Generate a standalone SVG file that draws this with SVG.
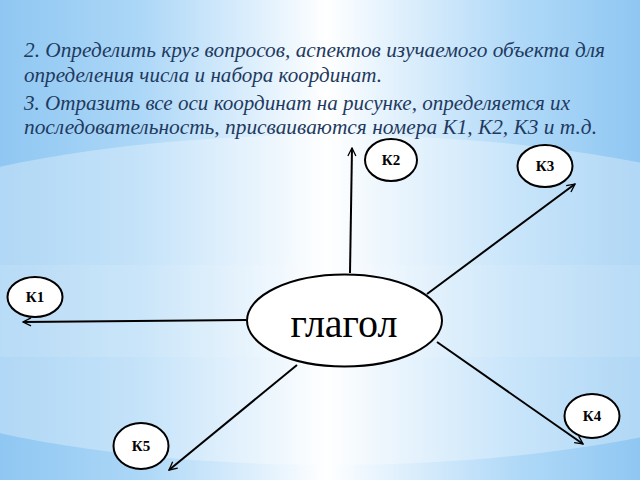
<svg xmlns="http://www.w3.org/2000/svg" width="640" height="480" viewBox="0 0 640 480">
<defs>
<linearGradient id="bg" x1="0" y1="0" x2="1" y2="0">
<stop offset="0" stop-color="#8fc7f2"/>
<stop offset="0.22" stop-color="#acd7f7"/>
<stop offset="0.42" stop-color="#e4f2fd"/>
<stop offset="0.51" stop-color="#ffffff"/>
<stop offset="0.6" stop-color="#e6f3fd"/>
<stop offset="0.8" stop-color="#b2daf8"/>
<stop offset="1" stop-color="#8fc7f2"/>
</linearGradient>
<marker id="arr" viewBox="0 0 10 10" refX="9" refY="5" markerWidth="10" markerHeight="10" markerUnits="userSpaceOnUse" orient="auto">
<path d="M1,1 L9,5 L1,9" fill="none" stroke="#000" stroke-width="1.3"/>
</marker>
<style>
.t{font-family:"Liberation Serif","Times New Roman",serif;font-style:italic;font-size:21px;fill:#1f3a60}
.n{fill:#fff;stroke:#000;stroke-width:2}
.l{font-family:"Liberation Serif","Times New Roman",serif;font-weight:bold;font-size:15px;fill:#000;text-anchor:middle}
.c{stroke:#000;stroke-width:2;fill:none;marker-end:url(#arr)}
</style>
</defs>
<rect width="640" height="480" fill="url(#bg)"/>
<ellipse cx="330" cy="300" rx="560" ry="165" fill="#ffffff" fill-opacity="0.3"/>
<rect x="0" y="265" width="640" height="92" fill="#ffffff" fill-opacity="0.1"/>
<g id="text">
<text class="t" x="24" y="57" textLength="581" lengthAdjust="spacingAndGlyphs">2. Определить круг вопросов, аспектов изучаемого объекта для</text>
<text class="t" x="24" y="82" textLength="358" lengthAdjust="spacingAndGlyphs">определения числа и набора координат.</text>
<text class="t" x="24" y="110" textLength="546" lengthAdjust="spacingAndGlyphs">3. Отразить все оси координат на рисунке, определяется их</text>
<text class="t" x="24" y="134" textLength="573" lengthAdjust="spacingAndGlyphs">последовательность, присваиваются номера К1, К2, К3 и т.д.</text>
</g>
<g id="connectors">
<line class="c" x1="350" y1="273" x2="352" y2="148"/>
<line class="c" x1="427" y1="294" x2="575" y2="184"/>
<line class="c" x1="246" y1="320" x2="23" y2="322"/>
<line class="c" x1="437" y1="342" x2="583" y2="444"/>
<line class="c" x1="297" y1="365" x2="169" y2="470"/>
</g>
<g id="verb">
<ellipse class="n" cx="344.5" cy="320.5" rx="97.5" ry="46"/>
<text x="344" y="337" font-family="Liberation Serif,Times New Roman,serif" font-size="40" text-anchor="middle" fill="#000">глагол</text>
</g>
<g id="k1">
<ellipse class="n" cx="35" cy="297" rx="27.5" ry="20"/>
<text class="l" x="35" y="302">К1</text>
</g>
<g id="k2">
<ellipse class="n" cx="391" cy="160" rx="26" ry="21"/>
<text class="l" x="391" y="165">К2</text>
</g>
<g id="k3">
<ellipse class="n" cx="545" cy="166" rx="27.5" ry="21"/>
<text class="l" x="545" y="171">К3</text>
</g>
<g id="k4">
<ellipse class="n" cx="592" cy="416" rx="27.5" ry="22"/>
<text class="l" x="592" y="421">К4</text>
</g>
<g id="k5">
<ellipse class="n" cx="141" cy="446" rx="27.5" ry="23"/>
<text class="l" x="141" y="451">К5</text>
</g>
</svg>
